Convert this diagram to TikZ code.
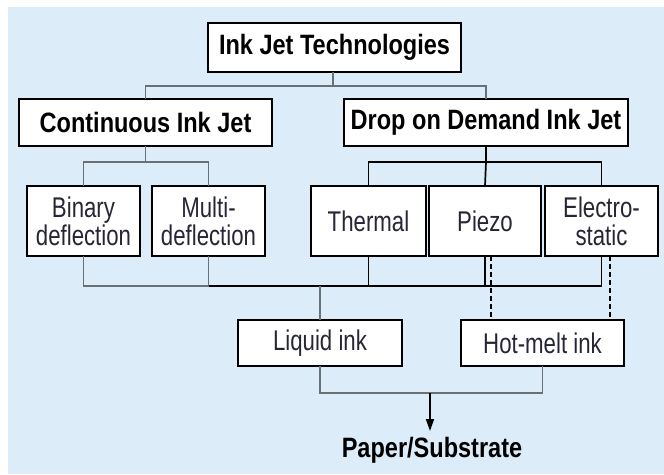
\documentclass[tikz,border=0pt]{standalone}
\usepackage{fontspec}
\setmainfont{Liberation Sans}[FakeStretch=0.78]
\newfontfamily\regf{Liberation Sans}[FakeStretch=0.78]
\newfontfamily\boldf{Liberation Sans Bold}[FakeStretch=0.84]
\usetikzlibrary{arrows.meta}
\definecolor{bgblue}{HTML}{DCECF9}
\definecolor{lgray}{HTML}{6A7176}
\definecolor{txt}{HTML}{262636}
\begin{document}
\begin{tikzpicture}[x=1pt,y=-1pt,
  box/.style={draw=black, line width=1.8pt, fill=white, inner sep=0pt, outer sep=0pt, align=center,
     text=txt, font=\regf\fontsize{28.5}{28}\selectfont},
  tbox/.style={box, text=black, font=\boldf\fontsize{28}{28}\selectfont},
  gline/.style={draw=lgray, line width=1.7pt},
  bline/.style={draw=black, line width=1.7pt},
  dline/.style={draw=black, line width=1.5pt, dash pattern=on 5pt off 3pt}]
\useasboundingbox (0,0) rectangle (664,474);
\fill[bgblue] (8,7) rectangle (664,474);
% boxes
\node[tbox, minimum width=253pt, minimum height=49pt] (top) at (334.5,47.5) {Ink Jet Technologies};
\node[tbox, minimum width=253pt, minimum height=47pt] (cij) at (145.5,122.5) {Continuous Ink Jet};
\node[tbox, minimum width=284pt, minimum height=47pt] (dod) at (486,122.5) {Drop on Demand Ink Jet};
\node[box, minimum width=113pt, minimum height=70pt] (bin) at (83.5,221) {Binary\\deflection};
\node[box, minimum width=113pt, minimum height=70pt] (multi) at (208.5,221) {Multi-\\deflection};
\node[box, minimum width=115pt, minimum height=70pt] (therm) at (368.5,221) {Thermal};
\node[box, minimum width=112pt, minimum height=70pt] (piezo) at (485,221) {Piezo};
\node[box, minimum width=113pt, minimum height=70pt] (elec) at (601.5,221) {Electro-\\static};
\node[box, minimum width=164pt, minimum height=46pt] (liq) at (320,343) {Liquid ink};
\node[box, minimum width=163pt, minimum height=46pt] (hot) at (542.5,343) {Hot-melt ink};
\node[anchor=base, inner sep=0pt, font=\boldf\fontsize{28}{28}\selectfont] (paper) at (432,457) {Paper/Substrate};
% junction coordinates
\coordinate (j1) at (333,86);
\coordinate (j2) at (0,162);
\coordinate (j3) at (0,286);
\coordinate (j4) at (0,393);
\coordinate (arr) at (430,393);
\coordinate (arrend) at (430,431);
% top level
\path[gline] (top.south -| j1) -- (j1) -| (cij.north);
\path[gline] (j1) -| (dod.north);
% continuous children
\path[gline] (cij.south) -- (cij.south |- j2) -| (bin.north);
\path[gline] (cij.south |- j2) -| (multi.north);
% drop on demand children
\path[bline] (dod.south) -- (dod.south |- j2) -| (therm.north);
\path[bline] (dod.south |- j2) -| (elec.north);
\path[bline] (dod.south |- j2) -- (piezo.north);
% lower collector
\path[gline] (bin.south) -- (bin.south |- j3) -- (multi.south |- j3) -- (multi.south);
\path[bline] (multi.south |- j3) -- (elec.south |- j3) -- (elec.south);
\path[bline] (therm.south) -- (therm.south |- j3);
\path[bline] (piezo.south) -- (piezo.south |- j3);
\path[gline] (liq.north |- j3) -- (liq.north);
% dashed
\path[dline] ([xshift=6pt]piezo.south) -- ([xshift=6pt]piezo.south |- hot.north);
\path[dline] ([xshift=8.5pt]elec.south) -- ([xshift=8.5pt]elec.south |- hot.north);
% output
\path[gline] (liq.south) -- (liq.south |- j4) -| (hot.south);
\draw[line width=1.7pt, -{Triangle[length=12pt,width=8pt]}] (arr) -- (arrend);
\end{tikzpicture}
\end{document}
